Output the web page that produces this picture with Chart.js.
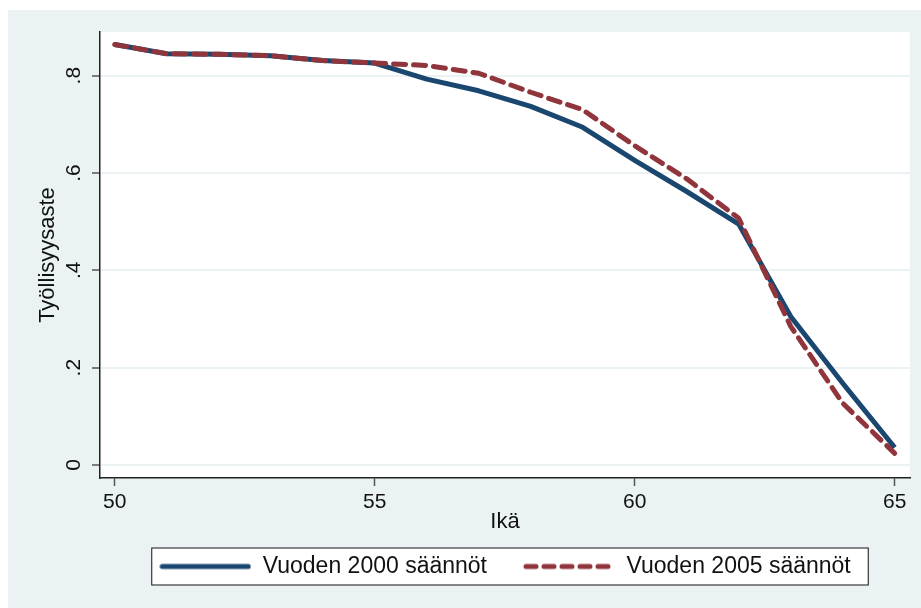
<!DOCTYPE html>
<html>
<head>
<meta charset="utf-8">
<script src="https://cdn.jsdelivr.net/npm/chart.js@4"></script>
<style>
  html, body { margin: 0; padding: 0; background: #fff; }
  #wrap { width: 921px; height: 608px; }
</style>
</head>
<body>
<div id="wrap"><canvas id="chart" width="921" height="608"></canvas></div>
<script>
const ages = [50, 51, 52, 53, 54, 55, 56, 57, 58, 59, 60, 61, 62, 63, 64, 65];
const rules2000 = [0.864, 0.845, 0.844, 0.841, 0.831, 0.826, 0.793, 0.769, 0.737, 0.694, 0.626, 0.562, 0.495, 0.305, 0.168, 0.036];
const rules2005 = [0.864, 0.845, 0.844, 0.841, 0.831, 0.826, 0.821, 0.805, 0.766, 0.730, 0.656, 0.588, 0.507, 0.285, 0.127, 0.024];
const xTicks = [50, 55, 60, 65];
const yTicks = [0, 0.2, 0.4, 0.6, 0.8];
const yTickLabels = ['0', '.2', '.4', '.6', '.8'];
const seriesNames = ['Vuoden 2000 säännöt', 'Vuoden 2005 säännöt'];

const FONT = '"Liberation Sans", Arial, sans-serif';
const BG = '#eaf2f3';
const BLUE = '#1a476f';
const RED = '#90353b';
const DASH = [12, 8];

const toPoints = (vals) => ages.map((a, i) => ({ x: a, y: vals[i] }));

// legend key: a short line in the series style (the built-in 'line' key ignores dashes)
function lineKey(color, dash) {
  const c = document.createElement('canvas');
  c.width = 92;
  c.height = 8;
  const g = c.getContext('2d');
  g.strokeStyle = color;
  g.lineWidth = 5;
  g.lineCap = 'round';
  g.setLineDash(dash);
  g.beginPath();
  g.moveTo(3, 4);
  g.lineTo(89, 4);
  g.stroke();
  return c;
}
const keys = [lineKey(BLUE, []), lineKey(RED, [10, 8])];

// stata-like backdrop: grey frame, white plot region, boxed legend
const backdrop = {
  id: 'backdrop',
  beforeDraw(chart) {
    const { ctx, chartArea: a, width, height } = chart;
    ctx.save();
    ctx.fillStyle = '#fff';
    ctx.fillRect(0, 0, width, height);
    ctx.fillStyle = BG;
    ctx.fillRect(8, 10, width - 8, height - 10);
    ctx.fillStyle = '#fff';
    ctx.fillRect(a.left, a.top, a.right - a.left, a.bottom - a.top);
    const hb = chart.legend?.legendHitBoxes || [];
    if (hb.length) {
      const first = hb[0];
      const last = hb[hb.length - 1];
      const mid = first.top + first.height / 2;
      const x0 = first.left - 8;
      const x1 = last.left + last.width + 17;
      ctx.fillStyle = '#fff';
      ctx.fillRect(x0, mid - 19, x1 - x0, 38);
      ctx.strokeStyle = '#111';
      ctx.lineWidth = 1;
      ctx.strokeRect(x0 + 0.5, mid - 18.5, x1 - x0, 37);
    }
    ctx.restore();
  },
};

new Chart(document.getElementById('chart'), {
  type: 'line',
  data: {
    datasets: [
      { label: seriesNames[0], data: toPoints(rules2000), borderColor: BLUE, backgroundColor: BLUE, borderWidth: 5, order: 1 },
      { label: seriesNames[1], data: toPoints(rules2005), borderColor: RED, backgroundColor: RED, borderWidth: 5, borderDash: DASH, borderCapStyle: 'round', order: 0 },
    ],
  },
  options: {
    responsive: false,
    animation: false,
    events: [],
    layout: { padding: { left: 0, top: 32, right: 11, bottom: 20 } },
    elements: {
      line: { tension: 0, borderJoinStyle: 'round' },
      point: { radius: 0 },
    },
    scales: {
      x: {
        type: 'linear',
        min: 49.717,
        max: 65.294,
        afterBuildTicks: (s) => { s.ticks = xTicks.map((v) => ({ value: v })); },
        afterFit: (s) => { s.height = 41; },
        ticks: { color: '#111', font: { family: FONT, size: 21 }, padding: 4, maxRotation: 0, callback: (v) => String(v) },
        grid: { drawOnChartArea: false, tickLength: 8, tickColor: '#555', tickWidth: 1.5 },
        border: { color: '#222', width: 1.5 },
        title: { display: true, text: 'Ikä', color: '#111', font: { family: FONT, size: 22 }, padding: { top: 0, bottom: -16 } },
      },
      y: {
        type: 'linear',
        min: -0.0267,
        max: 0.8898,
        afterBuildTicks: (s) => { s.ticks = yTicks.map((v) => ({ value: v })); },
        afterFit: (s) => { s.width = 100; },
        ticks: {
          color: '#111',
          font: { family: FONT, size: 21 },
          minRotation: 90,
          maxRotation: 90,
          crossAlign: 'center',
          padding: 9,
          callback: (v) => yTickLabels[yTicks.indexOf(v)] ?? '',
        },
        grid: { color: BG, lineWidth: 2, tickLength: 8, tickColor: '#555', tickWidth: 1.5 },
        border: { color: '#222', width: 1.5 },
        title: { display: true, text: 'Työllisyysaste', color: '#111', font: { family: FONT, size: 22 }, padding: { top: 35, bottom: 0 } },
      },
    },
    plugins: {
      tooltip: { enabled: false },
      legend: {
        position: 'bottom',
        fullSize: false,
        labels: {
          color: '#111',
          font: { family: FONT, size: 23 },
          usePointStyle: true,
          pointStyleWidth: 92,
          padding: 36,
          sort: (a, b) => a.datasetIndex - b.datasetIndex,
          generateLabels: (chart) => Chart.defaults.plugins.legend.labels.generateLabels(chart)
            .map((item) => ({ ...item, pointStyle: keys[item.datasetIndex] })),
        },
      },
    },
  },
  plugins: [backdrop],
});
</script>
</body>
</html>
